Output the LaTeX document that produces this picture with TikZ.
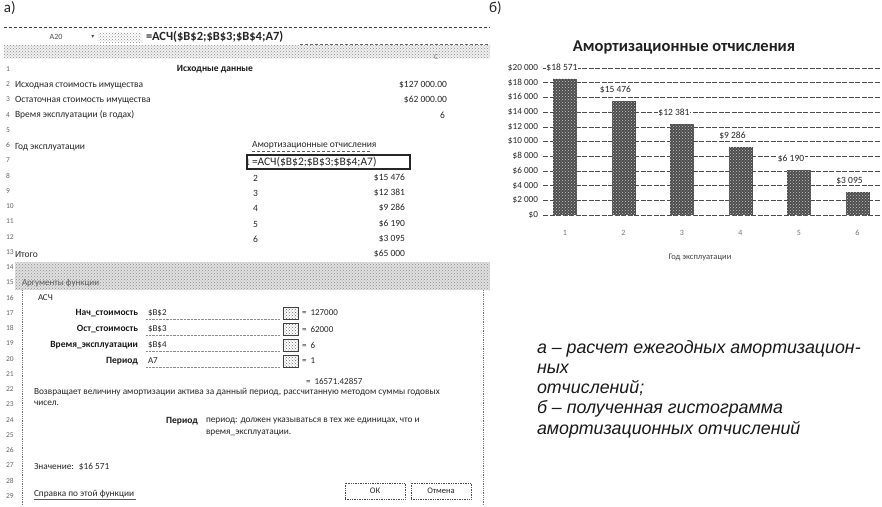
\documentclass[tikz,border=0pt]{standalone}
\usepackage{fontspec}
\setmainfont{Carlito}
\newfontfamily\capfont{Liberation Sans}
\newfontfamily\symfont{DejaVu Sans}
\usetikzlibrary{patterns}
\tikzset{
  every node/.style={inner sep=0pt, outer sep=0pt},
  rownum/.style={font=\fontsize{7.5}{8}\selectfont, text=black!60, anchor=west},
  cell/.style={font=\fontsize{9.5}{11}\selectfont, text=black!85, anchor=west},
  cellr/.style={cell, anchor=east},
  hcell/.style={font=\fontsize{9.5}{11}\selectfont\bfseries, text=black!90},
  dlg/.style={font=\fontsize{9}{10}\selectfont, text=black!85, anchor=west},
  dlgb/.style={font=\fontsize{9.5}{10}\selectfont\bfseries, text=black!90, anchor=east},
  small/.style={font=\fontsize{9.3}{10}\selectfont, text=black!85, anchor=west},
  ylab/.style={font=\fontsize{9.2}{10}\selectfont, text=black!85, anchor=east},
  xlab/.style={font=\fontsize{8}{9}\selectfont, text=black!55},
  dlab/.style={font=\fontsize{9.5}{10}\selectfont, text=black!85},
  barbox/.style={fill=black!70},
  gridln/.style={dash pattern=on 5pt off 1.5pt, black!70, line width=0.6pt},
  noise/.style={pattern=crosshatch dots, pattern color=black!45},
  caption/.style={font=\capfont\itshape\fontsize{17.8}{20}\selectfont, anchor=base west, text=black!90},
  panel/.style={font=\fontsize{15}{17}\selectfont, text=black!85, anchor=north west},
  btn/.style={draw=black!70, densely dotted, line width=0.7pt, minimum height=16pt, font=\fontsize{8.5}{9}\selectfont, text=black!85},
  argbox/.style={draw=black!75, line width=0.7pt, minimum width=15pt, minimum height=12pt, pattern=crosshatch dots, pattern color=black!60}
}
\begin{document}
\begin{tikzpicture}[x=1pt,y=-1pt]
\useasboundingbox (0,0) rectangle (882,506);
\fill[white] (0,0) rectangle (882,506);

% ---------------- panel a ----------------
\node[panel] (pa) at (4,2) {а)};
\draw[black!75, line width=0.9pt, densely dashed] (4,27) -- (490,27);
\node[font=\fontsize{8}{9}\selectfont, text=black!70] (namebox) at (56,37) {A20};
\node[font=\symfont\fontsize{6}{7}\selectfont, text=black!70] (arrowdn) at (93,37) {▾};
\fill[noise] (98,32) rectangle (142,42);
\node[font=\fontsize{12.5}{13}\selectfont\bfseries, text=black!85, anchor=west] (fbar) at (146,37) {=АСЧ(\$B\$2;\$B\$3;\$B\$4;A7)};
\draw[black!60, densely dashed] (300,44) -- (490,44);
\fill[black!6] (4,45) rectangle (490,58);
\fill[noise] (4,45) rectangle (490,58);
\node[font=\fontsize{7.5}{8}\selectfont, text=black!55] (colC) at (436,57) {C};

\foreach \k in {1,...,29} {
  \node[rownum] (r\k) at (6,{69+(\k-1)*15.25}) {\k};
}
\node[hcell] (h1) at (215,69) {Исходные данные};
\node[cell] (t2) at (15,85) {Исходная стоимость имущества};
\node[cellr] (v2) at (447,85) {\$127 000.00};
\node[cell] (t3) at (15,100) {Остаточная стоимость имущества};
\node[cellr] (v3) at (447,100) {\$62 000.00};
\node[cell] (t4) at (15,115) {Время эксплуатации (в годах)};
\node[cellr] (v4) at (445,115) {6};
\node[cell] (t6) at (15,147) {Год эксплуатации};
\node[cell] (h6) at (252,145) {Амортизационные отчисления};
\draw[black!65, densely dashed] (252,151.5) -- (372,151.5);
\node[draw=black!85, line width=1.4pt, minimum width=163pt, minimum height=14pt] (fcell) at (328.5,162) {};
\node[cell, font=\fontsize{11.5}{12}\selectfont] (fcelltxt) at (252,162) {=АСЧ(\$B\$2;\$B\$3;\$B\$4;A7)};
\node[cellr] (y1) at (250,162) {1};
\node[cellr] (y2) at (258,178) {2};
\node[cellr] (y3) at (258,193) {3};
\node[cellr] (y4) at (258,208) {4};
\node[cellr] (y5) at (258,224) {5};
\node[cellr] (y6) at (258,239) {6};
\node[cellr] (a2) at (405,178) {\$15 476};
\node[cellr] (a3) at (405,193) {\$12 381};
\node[cellr] (a4) at (405,208) {\$9 286};
\node[cellr] (a5) at (405,224) {\$6 190};
\node[cellr] (a6) at (405,239) {\$3 095};
\node[cell] (tot) at (15,254) {Итого};
\node[cellr] (totv) at (405,254) {\$65 000};

% dialog
\fill[black!12] (15,262) rectangle (490,290);
\fill[noise] (15,262) rectangle (490,290);
\node[dlg, text=black!65] (dtitle) at (22,283) {Аргументы функции};
\fill[white] (22,290) rectangle (483,506);
\draw[black!55, densely dotted, line width=0.8pt] (22,290) -- (22,506);
\draw[black!55, densely dotted, line width=0.8pt] (483,290) -- (483,506);
\node[dlg] (fname) at (38,298) {АСЧ};
\node[dlgb] (l1) at (138,313) {Нач\_стоимость};
\node[dlgb] (l2) at (138,329) {Ост\_стоимость};
\node[dlgb] (l3) at (138,345) {Время\_эксплуатации};
\node[dlgb] (l4) at (138,361) {Период};
\node[dlg] (e1) at (148,313) {\$B\$2};
\node[dlg] (e2) at (148,329) {\$B\$3};
\node[dlg] (e3) at (148,345) {\$B\$4};
\node[dlg] (e4) at (148,361) {A7};
\foreach \i/\yy in {1/313,2/329,3/345,4/361} {
  \draw[black!45, densely dotted] (146,\yy+6) -- (280,\yy+6);
  \node[argbox] (ib\i) at (291,\yy) {};
}
\node[dlg] (q1) at (302,313) {= \ 127000};
\node[dlg] (q2) at (302,329) {= \ 62000};
\node[dlg] (q3) at (302,345) {= \ 6};
\node[dlg] (q4) at (302,361) {= \ 1};
\node[dlg] (res) at (306,381) {= \ 16571.42857};
\node[small] (desc1) at (34,392) {Возвращает величину амортизации актива за данный период, рассчитанную методом суммы годовых};
\node[small] (desc2) at (34,403) {чисел.};
\node[font=\fontsize{9.5}{10}\selectfont\bfseries, text=black!90, anchor=east] (pl) at (198,421) {Период};
\node[small] (pd1) at (206,421) {период: должен указываться в тех же единицах, что и};
\node[small] (pd2) at (206,433) {время\_эксплуатации.};
\node[small] (val) at (34,467) {Значение: \ \$16 571};
\node[small] (help) at (34,494) {Справка по этой функции};
\draw[black!65] (34,499) -- (136,499);
\node[btn, minimum width=60pt] (ok) at (375,491) {ОК};
\node[btn, minimum width=60pt] (cancel) at (441,491) {Отмена};

% ---------------- panel b ----------------
\node[panel] (pb) at (489,2) {б)};
\node[font=\fontsize{16.5}{18}\selectfont\bfseries, text=black!88] (ctitle) at (684,47) {Амортизационные отчисления};
\foreach \v/\lab in {0/\$0,2/\$2 000,4/\$4 000,6/\$6 000,8/\$8 000,10/\$10 000,12/\$12 000,14/\$14 000,16/\$16 000,18/\$18 000,20/\$20 000} {
  \node[ylab] (yl\v) at (538,{215-\v*7.35}) {\lab};
  \draw[gridln] (543,{215-\v*7.35}) -- (880,{215-\v*7.35});
}
\foreach \i/\cx/\dx/\val/\lab in {1/565/-3/18.571/\$18 571,2/623.5/-8/15.476/\$15 476,3/682/-8/12.381/\$12 381,4/740.5/-8/9.286/\$9 286,5/799/-8/6.190/\$6 190,6/857.5/-8/3.095/\$3 095} {
  \fill[barbox] ({\cx-12},215) rectangle ({\cx+12},{215-\val*7.35});
  \fill[pattern=crosshatch dots, pattern color=white!80!black] ({\cx-12},215) rectangle ({\cx+12},{215-\val*7.35});
  \node[dlab, fill=white, inner sep=0.6pt] (dl\i) at ({\cx+\dx},{204-\val*7.35}) {\lab};
  \node[xlab] (xl\i) at (\cx,233) {\i};
}
\node[font=\fontsize{8.5}{9}\selectfont, text=black!75] (xtitle) at (700,257) {Год эксплуатации};

% caption
\node[caption] (c1) at (537,353) {а – расчет ежегодных амортизацион-};
\node[caption] (c2) at (537,373) {ных};
\node[caption] (c3) at (537,393) {отчислений;};
\node[caption] (c4) at (537,413) {б – полученная гистограмма};
\node[caption] (c5) at (537,434) {амортизационных отчислений};
\end{tikzpicture}
\end{document}
